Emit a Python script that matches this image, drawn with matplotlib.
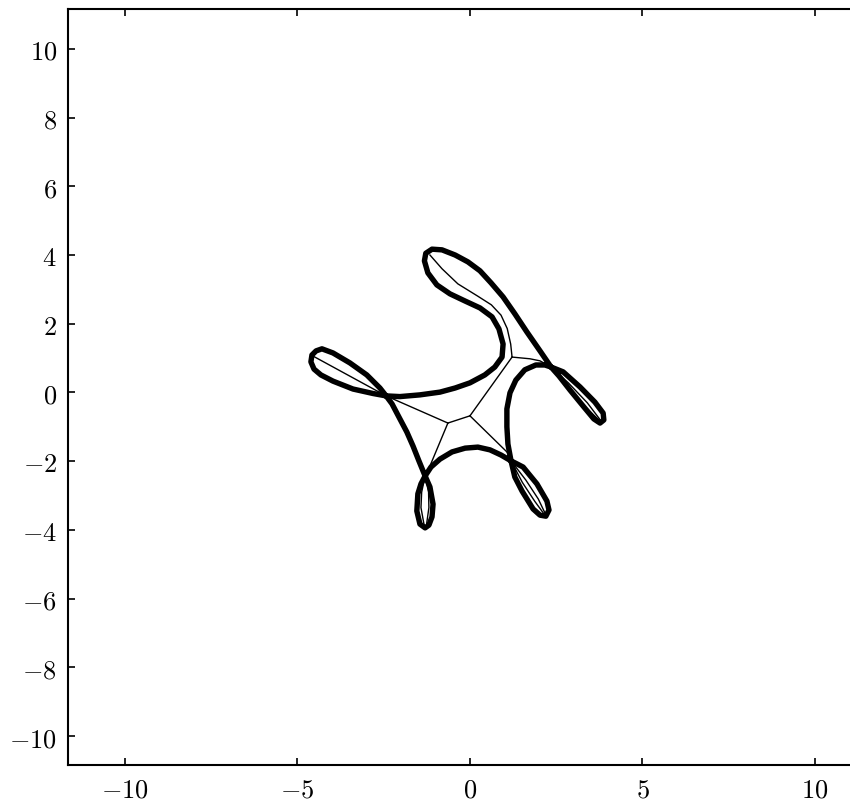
import matplotlib
matplotlib.use("Agg")
import matplotlib.pyplot as plt

plt.rcParams["mathtext.fontset"] = "cm"

# thick closed curve, traced from A through each petal (data units)
curve_x = [-2.43, -2.81, -3.39, -3.97, -4.32, -4.52, -4.61, -4.58, -4.46, -4.29, -3.97, -3.48,
           -2.99, -2.61,
           -2.43, -2.26, -2.03, -1.83, -1.65, -1.48, -1.30,
           -1.16, -1.07, -1.10, -1.19, -1.30, -1.45, -1.54, -1.51, -1.42, -1.30,
           -1.13, -0.87, -0.52, -0.14, 0.23, 0.58, 0.90, 1.19,
           1.54, 1.94, 2.23, 2.29, 2.20, 2.03, 1.83, 1.51, 1.30, 1.19,
           1.10, 1.07, 1.07, 1.16, 1.33, 1.59, 1.91, 2.17, 2.35,
           2.70, 3.19, 3.62, 3.86, 3.88, 3.77, 3.59, 3.30, 2.90, 2.58, 2.35,
           2.03, 1.65, 1.30, 0.96, 0.61, 0.29, -0.06, -0.43, -0.81, -1.10, -1.28, -1.32, -1.22,
           -0.96, -0.58, -0.14, 0.29, 0.64, 0.84, 0.96, 0.93, 0.72, 0.43, 0.00, -0.43,
           -0.87, -1.45, -2.03, -2.43]
curve_y = [-0.10, -0.03, 0.10, 0.33, 0.51, 0.68, 0.89, 1.09, 1.21, 1.27, 1.15, 0.86,
           0.51, 0.13,
           -0.10, -0.33, -0.77, -1.15, -1.56, -1.99, -2.43,
           -2.75, -3.25, -3.62, -3.86, -3.94, -3.83, -3.45, -2.95, -2.66, -2.43,
           -2.17, -1.94, -1.73, -1.62, -1.59, -1.67, -1.82, -1.99,
           -2.17, -2.66, -3.16, -3.42, -3.60, -3.57, -3.39, -2.87, -2.46, -1.99,
           -1.50, -1.00, -0.48, -0.01, 0.36, 0.66, 0.80, 0.80, 0.74,
           0.60, 0.16, -0.28, -0.60, -0.80, -0.89, -0.77, -0.42, 0.07, 0.48, 0.74,
           1.21, 1.76, 2.29, 2.78, 3.19, 3.54, 3.80, 4.00, 4.15, 4.17, 4.05, 3.83, 3.48,
           3.13, 2.87, 2.66, 2.46, 2.20, 1.85, 1.41, 1.03, 0.74, 0.51, 0.28, 0.13,
           0.01, -0.07, -0.12, -0.10]

# thin skeleton lines
skeleton = [
    ([-4.55, -2.43, -0.64], [1.06, -0.10, -0.89]),
    ([-0.64, 0.00], [-0.89, -0.68]),
    ([-0.64, -1.16, -1.30], [-0.89, -2.14, -2.43]),
    ([0.00, 1.07, 1.19], [-0.68, -1.73, -1.99]),
    ([0.00, 1.22], [-0.68, 1.03]),
    ([1.22, 1.74, 2.03, 2.35], [1.03, 0.98, 0.92, 0.74]),
    ([1.22, 1.18, 1.08, 0.90, 0.62, 0.23, -0.35, -0.81, -1.16],
     [1.03, 1.41, 1.86, 2.25, 2.55, 2.80, 3.16, 3.60, 4.00]),
    ([-1.30, -1.40, -1.42, -1.33], [-2.43, -2.90, -3.35, -3.85]),
    ([-1.30, -1.20, -1.19, -1.26], [-2.43, -2.90, -3.35, -3.85]),
    ([1.19, 1.62, 1.98, 2.18], [-1.99, -2.55, -3.10, -3.52]),
    ([1.19, 1.52, 1.88, 2.15], [-1.99, -2.62, -3.17, -3.54]),
    ([2.35, 2.85, 3.40, 3.80], [0.74, 0.28, -0.30, -0.83]),
    ([2.35, 2.78, 3.32, 3.78], [0.74, 0.20, -0.40, -0.84]),
]

x_ticks = [-10, -5, 0, 5, 10]
y_ticks = [-10, -8, -6, -4, -2, 0, 2, 4, 6, 8, 10]

fig = plt.figure(figsize=(8.5, 8.03), dpi=100)
ax = fig.add_axes([0.08, 0.0461, 0.9458, 0.9415])

for sx, sy in skeleton:
    ax.plot(sx, sy, color="black", lw=1.0, solid_joinstyle="round")
ax.plot(curve_x, curve_y, color="black", lw=3.9,
        solid_joinstyle="round", solid_capstyle="round")

ax.set_xlim(-11.65, 11.65)
ax.set_ylim(-10.84, 11.16)
ax.set_xticks(x_ticks, labels=[f"${t}$" for t in x_ticks])
ax.set_yticks(y_ticks, labels=[f"${t}$" for t in y_ticks])
ax.tick_params(direction="in", top=True, right=True, length=5, width=1.2,
               labelsize=19, pad=8)
for sp in ax.spines.values():
    sp.set_linewidth(1.5)

fig.savefig("out.png", dpi=100)
